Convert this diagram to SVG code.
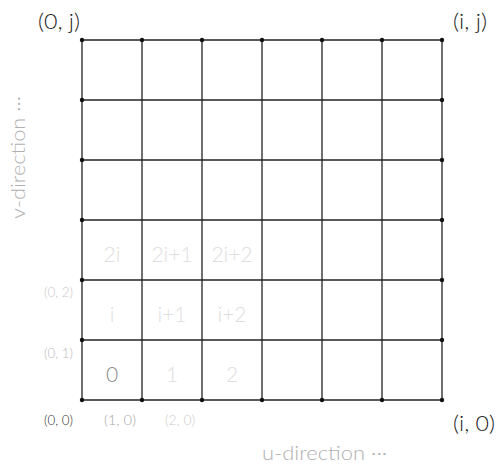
<svg xmlns="http://www.w3.org/2000/svg" width="500" height="466" viewBox="0 0 500 466">
<style>
.grid line{stroke:#222;stroke-width:1.3}
.dot{fill:#111}
text{font-family:Lato,"DejaVu Sans","Liberation Sans",sans-serif;font-weight:300}
.big{font-size:21px;fill:#222}
.axis{font-size:19px;fill:#b0b0b0}
.small{font-size:13px;fill:#bdbdbd}
.cell{font-size:21px;fill:#dedede;text-anchor:middle}
</style>
<rect width="500" height="466" fill="#fff"/>
<g id="connectors" class="grid">
<line x1="82" y1="40" x2="442" y2="40"/>
<line x1="82" y1="100" x2="442" y2="100"/>
<line x1="82" y1="160" x2="442" y2="160"/>
<line x1="82" y1="220" x2="442" y2="220"/>
<line x1="82" y1="280" x2="442" y2="280"/>
<line x1="82" y1="340" x2="442" y2="340"/>
<line x1="82" y1="400" x2="442" y2="400"/>
<line x1="82" y1="40" x2="82" y2="400"/>
<line x1="142" y1="40" x2="142" y2="400"/>
<line x1="202" y1="40" x2="202" y2="400"/>
<line x1="262" y1="40" x2="262" y2="400"/>
<line x1="322" y1="40" x2="322" y2="400"/>
<line x1="382" y1="40" x2="382" y2="400"/>
<line x1="442" y1="40" x2="442" y2="400"/>
</g>
<g id="dots" class="dot">
<circle cx="82" cy="40" r="2.2"/><circle cx="142" cy="40" r="2.2"/><circle cx="202" cy="40" r="2.2"/><circle cx="262" cy="40" r="2.2"/><circle cx="322" cy="40" r="2.2"/><circle cx="382" cy="40" r="2.2"/><circle cx="442" cy="40" r="2.2"/>
<circle cx="82" cy="400" r="2.2"/><circle cx="142" cy="400" r="2.2"/><circle cx="202" cy="400" r="2.2"/><circle cx="262" cy="400" r="2.2"/><circle cx="322" cy="400" r="2.2"/><circle cx="382" cy="400" r="2.2"/><circle cx="442" cy="400" r="2.2"/>
<circle cx="82" cy="100" r="2.2"/><circle cx="82" cy="160" r="2.2"/><circle cx="82" cy="220" r="2.2"/><circle cx="82" cy="280" r="2.2"/><circle cx="82" cy="340" r="2.2"/>
<circle cx="442" cy="100" r="2.2"/><circle cx="442" cy="160" r="2.2"/><circle cx="442" cy="220" r="2.2"/><circle cx="442" cy="280" r="2.2"/><circle cx="442" cy="340" r="2.2"/>
</g>
<g id="corner-labels">
<text class="big" x="38" y="29" textLength="42" lengthAdjust="spacingAndGlyphs">(0, j)</text>
<text class="big" x="453" y="29" textLength="34" lengthAdjust="spacingAndGlyphs">(i, j)</text>
<text class="big" x="453" y="431" textLength="42" lengthAdjust="spacingAndGlyphs">(i, 0)</text>
</g>
<g id="axis-labels">
<text class="axis" x="262" y="460" textLength="125" lengthAdjust="spacingAndGlyphs">u-direction ···</text>
<text class="axis" transform="translate(25,219) rotate(-90)" textLength="123" lengthAdjust="spacingAndGlyphs">v-direction ···</text>
</g>
<g id="coord-labels">
<text class="small" x="44" y="297" textLength="29" lengthAdjust="spacingAndGlyphs" style="fill:#c8c8c8">(0, 2)</text>
<text class="small" x="44" y="358" textLength="29" lengthAdjust="spacingAndGlyphs" style="fill:#bbb">(0, 1)</text>
<text class="small" x="44" y="425" textLength="29" lengthAdjust="spacingAndGlyphs" style="fill:#333">(0, 0)</text>
<text class="small" x="104" y="425" textLength="32" lengthAdjust="spacingAndGlyphs" style="fill:#aaa">(1, 0)</text>
<text class="small" x="165" y="425" textLength="30" lengthAdjust="spacingAndGlyphs" style="fill:#ccc">(2, 0)</text>
</g>
<g id="cell-labels">
<text class="cell" x="112" y="382" style="fill:#8a8a8a">0</text>
<text class="cell" x="172" y="382">1</text>
<text class="cell" x="232" y="382">2</text>
<text class="cell" x="112" y="322">i</text>
<text class="cell" x="172" y="322">i+1</text>
<text class="cell" x="232" y="322">i+2</text>
<text class="cell" x="112" y="262">2i</text>
<text class="cell" x="172" y="262">2i+1</text>
<text class="cell" x="232" y="262">2i+2</text>
</g>
</svg>
